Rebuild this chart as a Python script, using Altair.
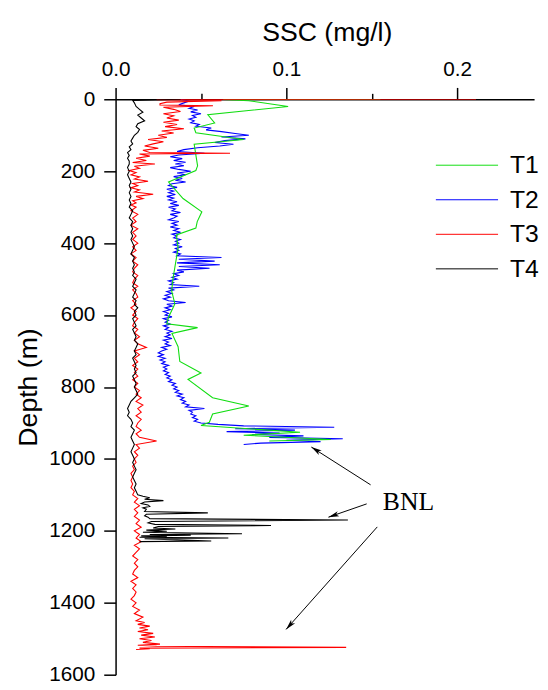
import altair as alt
import pandas as pd

# ---------------- data ----------------
series_names = ["T1", "T2", "T3", "T4"]
series_colors = ["#11dd11", "#0000ff", "#ff0000", "#000000"]

t1_depth = [0, 0.5, 4, 20, 43, 66, 80, 93, 112, 125, 185, 198, 230, 276, 313, 340, 358, 377,
            413, 496, 532, 569, 606, 624, 635, 651, 688, 729, 761, 779, 830, 853, 875, 898,
            907, 926, 934, 946, 950]
t1_ssc = [0.155, 0.063, 0.078, 0.101, 0.054, 0.058, 0.046, 0.047, 0.075, 0.046, 0.048, 0.047,
          0.031, 0.0395, 0.0505, 0.0478, 0.047, 0.0356, 0.0366, 0.0337, 0.0328, 0.0347, 0.031,
          0.030, 0.048, 0.033, 0.0366, 0.0376, 0.050, 0.0424, 0.0568, 0.078, 0.0568, 0.0549,
          0.050, 0.108, 0.075, 0.126, 0.090]

t2_depth = list(range(0, 901, 5)) + list(range(904, 961, 4))
t2_ssc = [0.038, 0.043, 0.040, 0.037, 0.046, 0.043, 0.048, 0.044, 0.050, 0.045,
          0.047, 0.043, 0.046, 0.044, 0.049, 0.047, 0.056, 0.053, 0.062, 0.070,
          0.078, 0.062, 0.076, 0.064, 0.058, 0.069, 0.061, 0.048, 0.040, 0.036,
          0.052, 0.037, 0.032, 0.039, 0.034, 0.041, 0.035, 0.040, 0.032, 0.037,
          0.044, 0.036, 0.041, 0.034, 0.039, 0.035, 0.041, 0.033, 0.031, 0.036,
          0.030, 0.034, 0.031, 0.035, 0.030, 0.034, 0.031, 0.036, 0.032, 0.037,
          0.031, 0.035, 0.033, 0.038, 0.032, 0.036, 0.034, 0.031, 0.037, 0.033,
          0.036, 0.032, 0.037, 0.034, 0.038, 0.033, 0.036, 0.034, 0.038, 0.035,
          0.037, 0.034, 0.039, 0.035, 0.037, 0.034, 0.038, 0.036, 0.062, 0.037,
          0.058, 0.036, 0.061, 0.037, 0.055, 0.036, 0.040, 0.034, 0.037, 0.033,
          0.036, 0.031, 0.034, 0.032, 0.049, 0.031, 0.034, 0.030, 0.033, 0.029,
          0.032, 0.028, 0.031, 0.041, 0.030, 0.033, 0.029, 0.032, 0.028, 0.031,
          0.029, 0.033, 0.028, 0.031, 0.029, 0.032, 0.028, 0.031, 0.029, 0.033,
          0.030, 0.032, 0.029, 0.033, 0.028, 0.031, 0.029, 0.032, 0.027, 0.030,
          0.027, 0.025, 0.028, 0.025, 0.029, 0.026, 0.029, 0.027, 0.031, 0.028,
          0.030, 0.028, 0.031, 0.029, 0.032, 0.030, 0.033, 0.031, 0.035, 0.033,
          0.036, 0.034, 0.037, 0.035, 0.039, 0.036, 0.040, 0.038, 0.041, 0.039,
          0.043, 0.041, 0.052, 0.043, 0.045, 0.044, 0.047, 0.045, 0.048, 0.046,
          0.050,
          0.060, 0.075, 0.128, 0.070, 0.105, 0.065, 0.096, 0.080, 0.110, 0.090,
          0.133, 0.100, 0.120, 0.085, 0.075]

t3_depth = ([0, 1, 4, 8, 12, 16, 18, 22, 28, 34, 40, 46, 52, 58, 64, 70, 76, 82, 88, 94,
             100, 106, 112, 118, 124, 130, 136, 142, 148, 150, 152, 158, 164, 170, 176, 180,
             186, 192, 198, 204, 210, 216, 222, 228, 234, 240, 246, 252, 258, 264, 270, 276,
             282, 288, 294]
            + list(range(300, 1451, 10))
            + [1455, 1460, 1465, 1470, 1475, 1480, 1485, 1490, 1495, 1500, 1505, 1510, 1515,
               1518, 1521, 1524, 1526, 1528, 1530])
t3_ssc = ([0.211, 0.024, 0.062, 0.030, 0.026, 0.026, 0.057, 0.028, 0.034, 0.038,
           0.028, 0.034, 0.030, 0.037, 0.028, 0.036, 0.029, 0.040, 0.027, 0.034,
           0.025, 0.030, 0.019, 0.028, 0.022, 0.017, 0.025, 0.016, 0.020, 0.067,
           0.014, 0.020, 0.012, 0.018, 0.010, 0.023, 0.011, 0.014, 0.008, 0.012,
           0.009, 0.014, 0.011, 0.019, 0.010, 0.013, 0.009, 0.014, 0.011, 0.022,
           0.012, 0.016, 0.010, 0.012, 0.009]
          + [0.012, 0.009, 0.013, 0.010, 0.012, 0.009, 0.013, 0.010, 0.012, 0.010,
             0.013, 0.010, 0.012, 0.009, 0.012, 0.010, 0.013, 0.011, 0.010, 0.013,
             0.011, 0.010, 0.013, 0.010, 0.012, 0.013, 0.010, 0.012, 0.009, 0.012,
             0.010, 0.013, 0.011, 0.010, 0.013, 0.011, 0.014, 0.011, 0.013, 0.018,
             0.011, 0.014, 0.011, 0.013, 0.010, 0.013, 0.011, 0.013, 0.010, 0.013,
             0.011, 0.014, 0.012, 0.015, 0.012, 0.016, 0.013, 0.015, 0.012, 0.015,
             0.013, 0.012, 0.015, 0.012, 0.014, 0.024, 0.012, 0.014, 0.011, 0.013,
             0.011, 0.012, 0.010, 0.011, 0.009, 0.010, 0.009, 0.010, 0.009, 0.011,
             0.010, 0.013, 0.011, 0.014, 0.011, 0.013, 0.011, 0.014, 0.012, 0.015,
             0.011, 0.014, 0.012, 0.015, 0.011, 0.014, 0.012, 0.010, 0.013, 0.011,
             0.013, 0.011, 0.010, 0.013, 0.009, 0.012, 0.010, 0.012, 0.011, 0.009,
             0.012, 0.010, 0.014, 0.011, 0.016, 0.012]
          + [0.017, 0.013, 0.020, 0.014, 0.019, 0.013, 0.022, 0.015, 0.023, 0.014,
             0.021, 0.016, 0.026, 0.013, 0.024, 0.135, 0.014, 0.020, 0.012])

t4_depth = ([0, 3, 10, 20, 28, 36, 44, 52, 60, 68, 76, 84, 92, 100, 108, 116, 124, 132,
             140, 148, 156, 164, 172]
            + list(range(180, 1101, 10))
            + [1104, 1108, 1112, 1116, 1120, 1124, 1128, 1132, 1136, 1140, 1146, 1150, 1154,
               1158, 1162, 1166, 1170, 1174, 1178, 1182, 1185, 1188, 1192, 1195, 1198, 1201,
               1204, 1208, 1210, 1212, 1214, 1216, 1218, 1220, 1222, 1225, 1228, 1230])
t4_ssc = ([0.038, 0.010, 0.011, 0.012, 0.014, 0.016, 0.013, 0.015, 0.017, 0.013, 0.012,
           0.014, 0.013, 0.011, 0.010, 0.009, 0.010, 0.008, 0.009, 0.007, 0.008, 0.007, 0.008]
          + [0.008, 0.007, 0.008, 0.007, 0.008, 0.009, 0.008, 0.009, 0.008, 0.009,
             0.008, 0.009, 0.008, 0.010, 0.009, 0.008, 0.010, 0.009, 0.010, 0.009,
             0.010, 0.009, 0.010, 0.011, 0.010, 0.009, 0.011, 0.010, 0.011, 0.010,
             0.011, 0.010, 0.012, 0.011, 0.010, 0.012, 0.011, 0.010, 0.012, 0.011,
             0.013, 0.011, 0.012, 0.010, 0.011, 0.012, 0.010, 0.011, 0.012, 0.011,
             0.013, 0.012, 0.011, 0.012, 0.010, 0.011, 0.012, 0.011, 0.012, 0.010,
             0.011, 0.012, 0.011, 0.012, 0.013, 0.011, 0.009, 0.008, 0.007, 0.008,
             0.007, 0.009, 0.010, 0.009, 0.011, 0.010, 0.009, 0.010, 0.011, 0.010,
             0.009, 0.010, 0.011, 0.010, 0.011, 0.012, 0.011, 0.010, 0.011, 0.012,
             0.011, 0.012, 0.013]
          + [0.016, 0.020, 0.017, 0.028, 0.017, 0.015, 0.019, 0.020, 0.016, 0.018,
             0.017, 0.054, 0.018, 0.017, 0.019, 0.020, 0.136, 0.021, 0.019, 0.023,
             0.091, 0.025, 0.022, 0.035, 0.018, 0.030, 0.016, 0.074, 0.020, 0.044,
             0.015, 0.030, 0.014, 0.066, 0.017, 0.036, 0.056, 0.014])

# BNL annotation arrows (tail -> tip) in data units
arrow_x1 = [0.1493, 0.1470, 0.1532]
arrow_y1 = [1072, 1125, 1189]
arrow_x2 = [0.1146, 0.1246, 0.0998]
arrow_y2 = [967, 1162, 1474]
arrow_angle = [302.6, 251.0, 221.6]
label_text = ["BNL"]
label_x = [0.1715]
label_y = [1143]

# ---------------- build tables ----------------
rows = []
for name, d, v in [("T2", t2_depth, t2_ssc), ("T1", t1_depth, t1_ssc),
                   ("T3", t3_depth, t3_ssc), ("T4", t4_depth, t4_ssc)]:
    assert len(d) == len(v), (name, len(d), len(v))
    for i, (dd, vv) in enumerate(zip(d, v)):
        rows.append({"series": name, "depth": dd, "ssc": vv, "idx": i})
df = pd.DataFrame(rows)

arrows = pd.DataFrame({"x1": arrow_x1, "y1": arrow_y1, "x2": arrow_x2, "y2": arrow_y2,
                       "ang": arrow_angle})
labels = pd.DataFrame({"x": label_x, "y": label_y, "t": label_text})

FONT = "Liberation Sans"
XT = "SSC (mg/l)"
YT = "Depth (m)"

xscale = alt.Scale(domain=[0, 0.245], nice=False, zero=False)
yscale = alt.Scale(domain=[0, 1600], reverse=True, nice=False, zero=False)

xaxis = alt.Axis(
    orient="top",
    values=[0, 0.05, 0.1, 0.15, 0.2],
    labelExpr="round(datum.value*100) % 10 == 0 ? format(datum.value, '.1f') : ''",
    tickSize={"condition": {"test": "round(datum.value*100) % 10 == 0", "value": 12}, "value": 6},
    labelBaseline="alphabetic",
    labelPadding=12,
    labelFlush=False,
    labelOverlap=False,
    titleX=214, titleY=-60, titleAlign="center", titleBaseline="alphabetic",
)
yaxis = alt.Axis(
    orient="left",
    values=list(range(0, 1601, 100)),
    labelExpr="datum.value % 200 == 0 ? format(datum.value, 'd') : ''",
    tickSize={"condition": {"test": "datum.value % 200 == 0", "value": 12}, "value": 6},
    labelPadding=9,
    labelFlush=False,
    labelOverlap=False,
    titleX=-80, titleY=291.5, titleAngle=270, titleAlign="center", titleBaseline="alphabetic",
)

lines = alt.Chart(df).mark_line(strokeWidth=1.1, clip=True).encode(
    x=alt.X("ssc:Q", scale=xscale, axis=xaxis, title=XT),
    y=alt.Y("depth:Q", scale=yscale, axis=yaxis, title=YT),
    color=alt.Color(
        "series:N",
        scale=alt.Scale(domain=series_names, range=series_colors),
        legend=alt.Legend(
            orient="none", legendX=343.5, legendY=54.3, title=None,
            symbolType="M-3,0L3,0", symbolSize=441, symbolStrokeWidth=1,
            labelFont=FONT, labelFontSize=25, labelColor="black",
            labelOffset=31, rowPadding=9, padding=0,
        ),
    ),
    order=alt.Order("idx:Q"),
)

rules = alt.Chart(arrows).mark_rule(color="black", strokeWidth=1).encode(
    x=alt.X("x1:Q", title=XT), y=alt.Y("y1:Q", title=YT), x2="x2:Q", y2="y2:Q"
)
heads = alt.Chart(arrows).mark_point(
    shape="M0,0L-0.45,1.8L0,1.35L0.45,1.8Z", filled=True, color="black",
    size=144, opacity=1, strokeWidth=0,
).encode(
    x=alt.X("x2:Q", title=XT), y=alt.Y("y2:Q", title=YT),
    angle=alt.Angle("ang:Q", scale=None),
)
text = alt.Chart(labels).mark_text(
    font="Liberation Serif", fontSize=26, align="center", baseline="alphabetic", color="black"
).encode(x=alt.X("x:Q", title=XT), y=alt.Y("y:Q", title=YT), text="t:N")

chart = alt.layer(lines, rules, heads, text).properties(
    width=424, height=583,
    autosize=alt.AutoSizeParams(type="none"),
    padding={"left": 109, "top": 88, "right": 6, "bottom": 10},
).configure_axis(
    labelFont=FONT, labelFontSize=21, labelColor="black",
    titleFont=FONT, titleFontSize=27, titleFontWeight="normal", titleColor="black",
    domainColor="black", domainWidth=1.5, tickColor="black", tickWidth=1.5, grid=False,
).configure_view(stroke=None)

chart.save("out.html", embed_options={"renderer": "svg", "actions": False})
